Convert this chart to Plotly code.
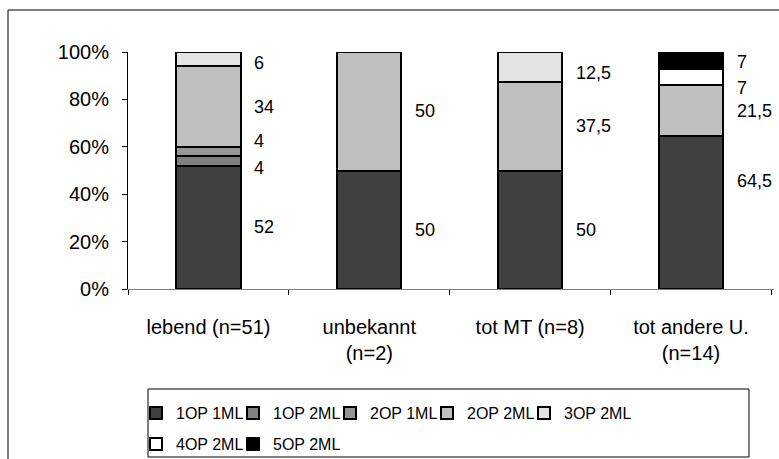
import plotly.graph_objects as go
import numpy as np

categories = ["lebend (n=51)", "unbekannt<br>(n=2)", "tot MT (n=8)", "tot andere U.<br>(n=14)"]
series_names = ["1OP 1ML", "1OP 2ML", "2OP 1ML", "2OP 2ML", "3OP 2ML", "4OP 2ML", "5OP 2ML"]
s_1op1ml = [52, 50, 50, 64.5]
s_1op2ml = [4, None, None, None]
s_2op1ml = [4, None, None, None]
s_2op2ml = [34, 50, 37.5, 21.5]
s_3op2ml = [6, None, 12.5, None]
s_4op2ml = [None, None, None, 7]
s_5op2ml = [None, None, None, 7]
series_values = [s_1op1ml, s_1op2ml, s_2op1ml, s_2op2ml, s_3op2ml, s_4op2ml, s_5op2ml]
y_tickvals = [0, 20, 40, 60, 80, 100]
y_ticktext = ["0%", "20%", "40%", "60%", "80%", "100%"]
colors = ["#404040", "#808080", "#969696", "#C0C0C0", "#E3E3E3", "#FFFFFF", "#000000"]

# pixel nudges of the data labels (positive = up), as placed in the original
label_nudge = [
    [0, 0, 0, 32],
    [-7, 0, 0, 0],
    [11, 0, 0, 0],
    [0, 0, 0, 0],
    [-4, 0, -6, 0],
    [0, 0, 0, -11],
    [0, 0, 0, -2],
]

FONT = "Liberation Sans, Arial, sans-serif"

L, R, T, B = 128, 5, 52, 170
W, H = 779, 459
pw, ph = W - L - R, H - T - B
def px(xp):
    return (xp - L) / pw
def py(yp):
    return (H - B - yp) / ph

# legend entry placement (pixel positions of each entry, row by row)
legend_pos = [(136, 413), (233, 413), (330, 413), (427, 413), (524, 413), (136, 444), (233, 444)]

fig = go.Figure()
legend_layout = {}
for i, (name, vals, col) in enumerate(zip(series_names, series_values, colors)):
    lname = "legend" if i == 0 else "legend%d" % (i + 1)
    fig.add_trace(go.Bar(
        x=categories, y=vals, name=name, showlegend=True,
        marker=dict(color=col, line=dict(color="#000000", width=2)),
        legend=lname,
    ))
    lx, ly = legend_pos[i]
    legend_layout[lname] = dict(
        orientation="h", x=px(lx), y=py(ly), xanchor="left", yanchor="middle",
        bgcolor="rgba(0,0,0,0)", borderwidth=0,
        font=dict(family=FONT, size=16, color="#000000"),
    )

def fmt(v):
    return ("%g" % v).replace(".", ",")

annotations = []
cum = np.zeros(len(categories))
for si, vals in enumerate(series_values):
    for ci, v in enumerate(vals):
        if v is None:
            continue
        mid = cum[ci] + v / 2.0
        annotations.append(dict(
            x=categories[ci], y=mid, xref="x", yref="y", text=fmt(v),
            showarrow=False, xanchor="left", yanchor="middle",
            xshift=44, yshift=label_nudge[si][ci],
            font=dict(family=FONT, size=18, color="#000000"),
        ))
        cum[ci] += v

shapes = [
    dict(type="rect", xref="paper", yref="paper", x0=px(8), x1=px(800), y0=py(480), y1=py(10),
         line=dict(color="#000000", width=1), fillcolor="rgba(0,0,0,0)", layer="below"),
    dict(type="rect", xref="paper", yref="paper", x0=px(148), x1=px(749), y0=py(457), y1=py(389),
         line=dict(color="#000000", width=1), fillcolor="rgba(0,0,0,0)"),
]

fig.update_layout(
    width=W, height=H,
    margin=dict(l=L, r=R, t=T, b=B, autoexpand=False),
    showlegend=True,
    barmode="stack", bargap=0.6,
    paper_bgcolor="#FFFFFF", plot_bgcolor="#FFFFFF",
    font=dict(family=FONT, size=18, color="#000000"),
    xaxis=dict(
        showline=True, linecolor="#808080", linewidth=1,
        ticks="outside", tickson="boundaries", ticklen=5, tickcolor="#000000",
        showgrid=False, ticklabelstandoff=20,
        tickfont=dict(family=FONT, size=20),
    ),
    yaxis=dict(
        range=[0, 100], tickmode="array", tickvals=y_tickvals, ticktext=y_ticktext,
        showline=True, linecolor="#000000", linewidth=1,
        ticks="outside", ticklen=5, tickcolor="#000000",
        showgrid=False, zeroline=False, ticklabelstandoff=9,
        tickfont=dict(family=FONT, size=20),
    ),
    annotations=annotations,
    shapes=shapes,
    **legend_layout,
)

fig.write_html("out.html")
